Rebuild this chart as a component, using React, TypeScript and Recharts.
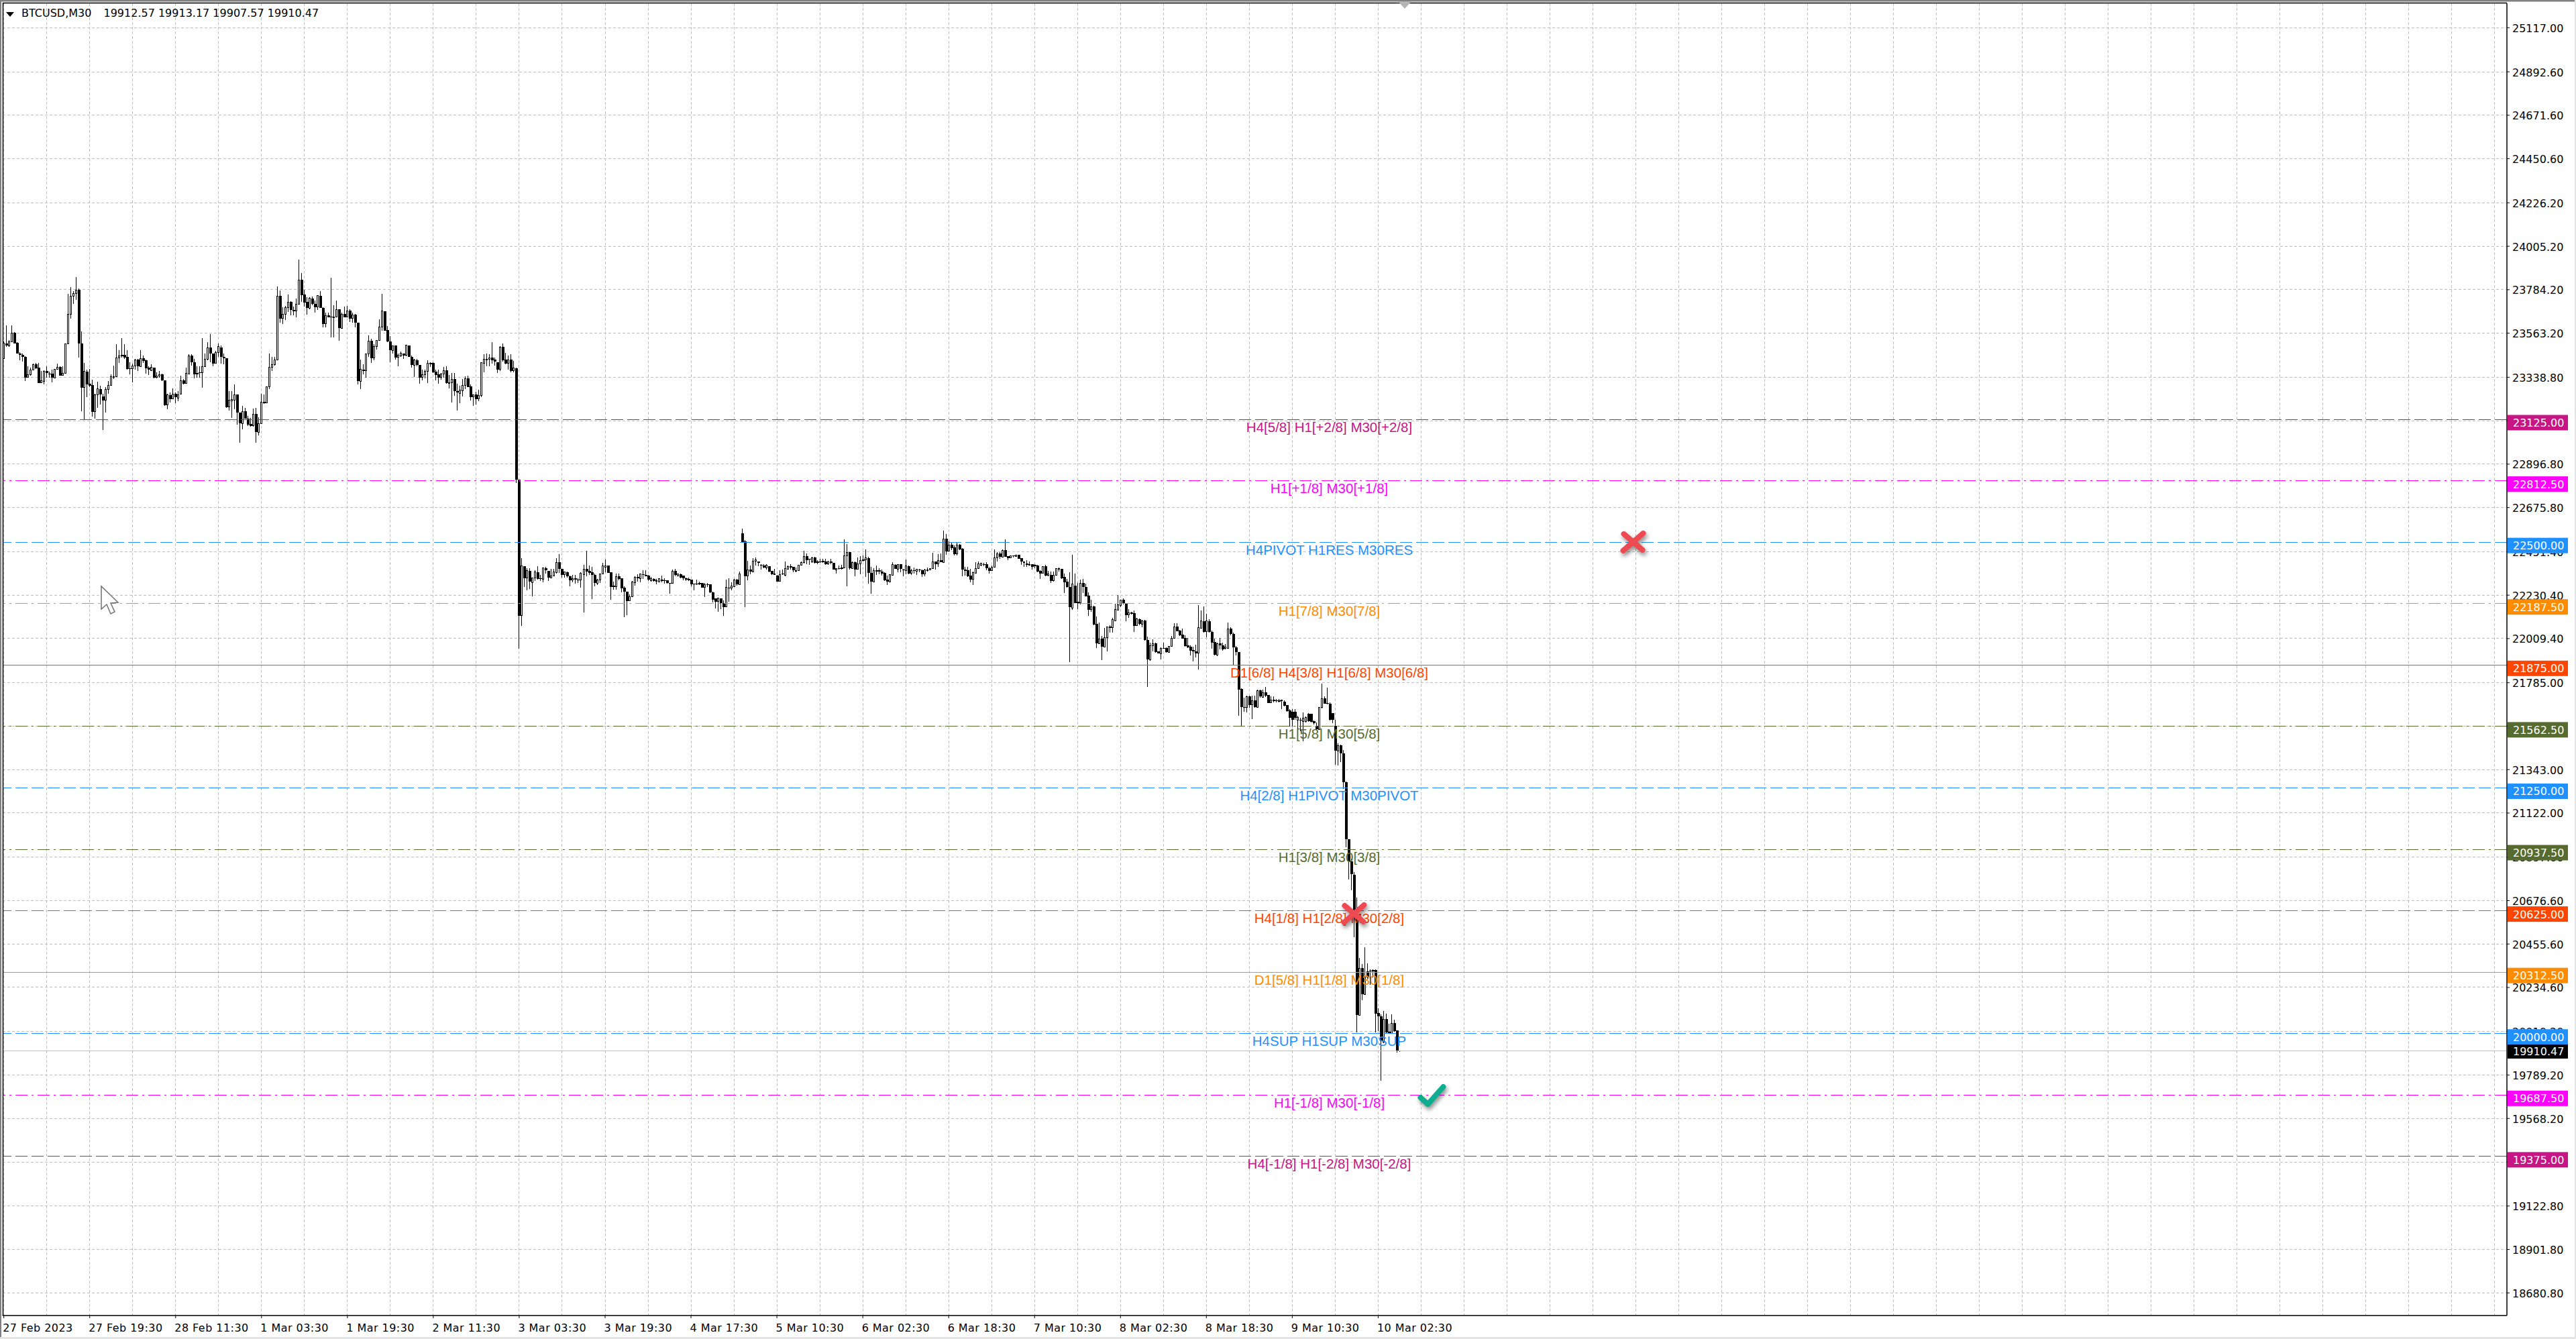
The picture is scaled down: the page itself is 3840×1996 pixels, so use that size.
import React from 'react';
import { Bar, CartesianGrid, ComposedChart, ReferenceDot, ReferenceLine, XAxis, YAxis } from 'recharts';

const symbolText = 'BTCUSD,M30';
const quoteText = '19912.57 19913.17 19907.57 19910.47';

const opens = [
  23435,23512,23499,23520,23565,23514,23461,23452,23442,23338,
  23353,23377,23404,23387,23311,23318,23370,23357,23357,23336,
  23380,23392,23350,23359,23510,23660,23752,23766,23783,23510,
  23287,23369,23305,23298,23163,23251,23279,23241,23222,23278,
  23298,23342,23343,23438,23452,23452,23443,23385,23382,23397,
  23428,23393,23434,23426,23387,23372,23387,23338,23346,23353,
  23323,23197,23248,23230,23254,23233,23253,23322,23307,23355,
  23448,23414,23360,23363,23362,23393,23431,23489,23461,23410,
  23464,23489,23442,23435,23188,23220,23222,23251,23158,23104,
  23165,23129,23102,23091,23152,23059,23104,23213,23208,23290,
  23390,23404,23428,23752,23638,23659,23693,23721,23683,23675,
  23709,23836,23759,23723,23689,23740,23711,23698,23754,23693,
  23611,23654,23647,23646,23646,23684,23588,23660,23645,23678,
  23638,23657,23617,23318,23378,23372,23459,23524,23437,23495,
  23526,23594,23674,23578,23521,23475,23500,23441,23447,23459,
  23450,23500,23442,23400,23425,23401,23338,23352,23369,23411,
  23411,23367,23353,23338,23355,23373,23311,23311,23329,23268,
  23256,23271,23297,23332,23293,23238,23251,23229,23245,23410,
  23430,23430,23438,23429,23414,23379,23493,23429,23410,23428,
  23372,23384,22818,22126,22378,22317,22354,22293,22317,22347,
  22316,22312,22367,22354,22317,22328,22345,22397,22363,22334,
  22347,22325,22307,22315,22310,22307,22334,22363,22353,22346,
  22335,22292,22307,22338,22372,22381,22346,22279,22275,22325,
  22315,22268,22247,22201,22222,22295,22323,22316,22336,22334,
  22329,22303,22312,22303,22299,22309,22307,22307,22291,22290,
  22353,22328,22337,22329,22317,22312,22308,22288,22288,22293,
  22291,22270,22287,22285,22244,22213,22197,22214,22190,22171,
  22270,22266,22275,22309,22284,22545,22503,22328,22359,22349,
  22403,22400,22384,22382,22370,22376,22354,22336,22330,22300,
  22339,22332,22364,22378,22373,22356,22355,22382,22396,22428,
  22414,22399,22422,22403,22403,22404,22400,22389,22401,22394,
  22359,22367,22370,22368,22430,22448,22366,22397,22364,22389,
  22411,22411,22419,22345,22299,22357,22357,22350,22342,22309,
  22299,22333,22384,22364,22388,22359,22355,22378,22341,22357,
  22351,22362,22357,22337,22357,22358,22365,22400,22388,22407,
  22396,22516,22454,22486,22473,22440,22487,22466,22361,22357,
  22329,22312,22343,22365,22384,22389,22387,22368,22355,22372,
  22420,22442,22425,22459,22428,22420,22431,22427,22436,22417,
  22400,22393,22386,22387,22384,22381,22355,22341,22379,22330,
  22335,22303,22331,22364,22364,22322,22299,22272,22166,22278,
  22196,22193,22292,22272,22227,22157,22172,22083,21985,22009,
  21968,22014,22072,22065,22100,22155,22179,22207,22188,22130,
  22142,22138,22075,22109,22084,22101,22002,21900,21973,21986,
  21943,21932,21961,21961,21940,21969,22010,22069,22050,22029,
  22012,21974,21968,21950,21944,21935,22061,22098,22044,22098,
  22042,21992,21925,21984,21976,21958,21961,22061,22033,21965,
  21940,21753,21661,21660,21714,21672,21694,21660,21746,21711,
  21735,21722,21683,21697,21695,21694,21694,21689,21671,21643,
  21637,21637,21595,21597,21589,21589,21627,21627,21590,21566,
  21548,21658,21705,21683,21679,21629,21566,21436,21466,21424,
  21280,20989,20876,20808,20588,20094,20332,20199,20315,20321,
  20324,20324,20104,20088,19955,20074,20008,20002,20054,20016,
  19912.57,
];

const highs = [
  23520,23603,23527,23603,23569,23517,23466,23459,23446,23394,
  23387,23410,23413,23413,23372,23375,23395,23367,23376,23381,
  23410,23395,23395,23510,23762,23797,23777,23849,23790,23572,
  23412,23376,23381,23327,23256,23315,23296,23256,23290,23319,
  23353,23398,23506,23478,23538,23506,23478,23415,23410,23433,
  23433,23476,23450,23429,23395,23406,23387,23364,23370,23356,
  23323,23254,23262,23281,23261,23268,23347,23330,23387,23455,
  23455,23433,23393,23393,23538,23461,23518,23560,23461,23472,
  23512,23501,23461,23435,23270,23268,23302,23251,23158,23193,
  23182,23142,23131,23179,23182,23137,23256,23251,23291,23459,
  23443,23443,23800,23780,23694,23702,23759,23725,23698,23740,
  23936,23869,23785,23745,23745,23748,23728,23757,23777,23695,
  23666,23666,23844,23706,23728,23684,23666,23700,23702,23686,
  23668,23660,23617,23429,23404,23461,23552,23535,23506,23527,
  23634,23762,23674,23600,23549,23501,23501,23459,23470,23461,
  23504,23501,23450,23433,23433,23401,23379,23379,23427,23415,
  23415,23376,23376,23361,23390,23393,23350,23361,23361,23306,
  23296,23330,23344,23347,23302,23251,23265,23276,23414,23456,
  23459,23455,23518,23438,23415,23497,23510,23463,23450,23455,
  23421,23387,22818,22420,22378,22369,22369,22318,22357,22378,
  22332,22371,22374,22354,22363,22363,22417,22439,22363,22351,
  22351,22329,22332,22332,22315,22348,22384,22455,22380,22374,
  22340,22312,22340,22394,22412,22382,22346,22298,22340,22340,
  22317,22275,22249,22234,22303,22325,22337,22339,22357,22357,
  22332,22323,22317,22312,22314,22329,22317,22307,22291,22361,
  22363,22340,22340,22330,22318,22318,22308,22289,22308,22298,
  22291,22291,22291,22287,22247,22215,22217,22214,22204,22309,
  22317,22296,22312,22312,22350,22568,22511,22405,22380,22420,
  22423,22400,22388,22388,22388,22378,22355,22363,22332,22357,
  22359,22403,22382,22388,22374,22371,22386,22403,22455,22441,
  22416,22425,22425,22408,22416,22416,22416,22405,22414,22396,
  22368,22382,22384,22514,22489,22448,22403,22400,22422,22428,
  22434,22463,22425,22374,22368,22380,22366,22359,22348,22329,
  22337,22397,22388,22388,22388,22363,22412,22382,22363,22371,
  22365,22365,22361,22363,22371,22368,22445,22403,22439,22442,
  22558,22541,22503,22496,22485,22496,22491,22469,22374,22374,
  22363,22351,22397,22400,22395,22396,22397,22374,22380,22462,
  22448,22448,22463,22514,22430,22433,22431,22436,22436,22420,
  22403,22407,22403,22388,22389,22384,22357,22379,22384,22355,
  22351,22351,22368,22371,22364,22340,22312,22346,22436,22340,
  22291,22309,22314,22289,22243,22206,22175,22121,22090,22022,
  22064,22070,22078,22116,22186,22230,22207,22214,22189,22161,
  22147,22152,22116,22111,22103,22103,22018,21987,22007,21989,
  21945,21965,21987,21964,21973,22022,22088,22088,22053,22059,
  22027,22014,21976,21968,21979,22181,22152,22173,22135,22107,
  22050,22010,21987,22014,21987,21982,22090,22067,22039,21973,
  21942,21757,21709,21720,21718,21720,21720,21749,21749,21749,
  21763,21722,21714,21714,21703,21703,21700,21695,21672,21650,
  21652,21652,21618,21606,21635,21612,21629,21627,21593,21584,
  21660,21780,21714,21760,21686,21629,21595,21476,21470,21444,
  21282,20989,20890,20822,20691,20384,20355,20440,20357,20327,
  20327,20327,20128,20099,20114,20101,20051,20097,20071,20016,
  19913.17,
];

const lows = [
  23435,23495,23492,23516,23509,23458,23427,23418,23321,23336,
  23347,23376,23381,23311,23311,23304,23336,23336,23313,23334,
  23379,23347,23347,23359,23510,23637,23711,23734,23438,23165,
  23123,23239,23290,23140,23129,23182,23199,23069,23160,23256,
  23296,23330,23342,23413,23438,23433,23376,23353,23313,23376,
  23370,23393,23413,23356,23350,23370,23334,23334,23336,23319,
  23194,23177,23211,23228,23208,23216,23251,23302,23307,23353,
  23398,23334,23336,23336,23284,23393,23427,23415,23393,23410,
  23444,23410,23404,23182,23171,23133,23177,23097,23004,23074,
  23129,23091,23086,23086,23004,23042,23102,23205,23207,23277,
  23372,23398,23427,23615,23611,23629,23671,23654,23654,23645,
  23709,23723,23700,23657,23686,23706,23666,23683,23691,23592,
  23591,23645,23543,23541,23643,23524,23586,23643,23643,23620,
  23615,23591,23304,23279,23355,23338,23444,23413,23427,23481,
  23526,23577,23577,23518,23415,23458,23429,23395,23441,23433,
  23447,23441,23387,23340,23395,23306,23324,23334,23310,23390,
  23361,23324,23306,23327,23336,23307,23281,23211,23245,23168,
  23208,23241,23279,23288,23222,23194,23199,23216,23238,23364,
  23395,23395,23410,23398,23361,23372,23419,23406,23376,23364,
  23364,22801,21959,22075,22272,22255,22263,22225,22303,22309,
  22303,22297,22340,22303,22317,22325,22341,22343,22320,22320,
  22320,22275,22297,22289,22291,22268,22143,22328,22332,22212,
  22275,22282,22291,22338,22346,22343,22207,22257,22257,22306,
  22246,22118,22130,22200,22221,22280,22298,22297,22312,22325,
  22304,22300,22298,22287,22297,22297,22289,22289,22238,22289,
  22325,22325,22316,22305,22303,22303,22277,22255,22283,22282,
  22267,22221,22273,22241,22192,22163,22147,22160,22126,22168,
  22196,22255,22272,22280,22282,22496,22169,22306,22337,22346,
  22380,22378,22361,22368,22359,22346,22332,22332,22298,22300,
  22332,22328,22362,22359,22348,22348,22354,22380,22391,22388,
  22384,22396,22391,22389,22394,22394,22384,22384,22389,22359,
  22341,22362,22362,22366,22275,22359,22363,22328,22362,22337,
  22400,22323,22289,22238,22296,22332,22337,22329,22303,22283,
  22298,22332,22363,22348,22346,22326,22337,22337,22332,22340,
  22332,22346,22323,22325,22351,22357,22363,22359,22374,22397,
  22394,22437,22452,22460,22434,22431,22460,22326,22329,22323,
  22295,22282,22341,22363,22378,22378,22357,22340,22353,22371,
  22400,22414,22425,22425,22408,22417,22423,22425,22415,22386,
  22374,22374,22384,22361,22368,22348,22314,22340,22328,22328,
  22291,22300,22329,22351,22312,22241,22270,21891,22157,22189,
  22159,22184,22241,22223,22125,22147,22078,21961,21984,21900,
  21968,21945,22041,22041,22100,22152,22169,22184,22098,22116,
  22132,22043,22073,22078,22067,22000,21763,21896,21945,21939,
  21934,21904,21959,21936,21939,21968,22009,22045,22024,22008,
  21968,21961,21925,21893,21913,21851,22061,22041,22016,22039,
  21959,21923,21919,21953,21948,21953,21959,22027,21877,21925,
  21615,21561,21638,21635,21658,21601,21658,21658,21709,21709,
  21711,21680,21680,21686,21686,21686,21652,21663,21638,21561,
  21561,21595,21549,21538,21487,21584,21587,21584,21572,21544,
  21544,21655,21677,21675,21593,21578,21367,21364,21381,21246,
  20947,20785,20731,20492,20005,20090,20170,20198,20275,20247,
  20287,20005,20014,19761,19951,20002,20000,20000,20008,19905,
  19907.57,
];

const closes = [
  23512,23499,23520,23565,23511,23461,23452,23441,23338,23352,
  23377,23404,23385,23311,23322,23369,23359,23355,23338,23380,
  23390,23348,23359,23510,23660,23752,23766,23783,23509,23287,
  23370,23304,23296,23163,23251,23279,23252,23222,23278,23299,
  23343,23343,23438,23448,23446,23438,23382,23382,23397,23428,
  23393,23434,23421,23386,23379,23390,23336,23346,23353,23322,
  23198,23251,23229,23254,23236,23251,23322,23307,23360,23448,
  23414,23355,23355,23359,23394,23431,23489,23459,23410,23464,
  23495,23441,23434,23188,23222,23226,23251,23160,23106,23164,
  23129,23097,23091,23152,23059,23104,23213,23207,23291,23390,
  23404,23427,23752,23638,23660,23694,23721,23683,23675,23711,
  23834,23757,23720,23691,23740,23711,23696,23754,23693,23611,
  23654,23645,23646,23647,23684,23588,23660,23645,23677,23637,
  23657,23617,23318,23380,23372,23459,23524,23437,23496,23527,
  23595,23677,23577,23522,23475,23500,23438,23452,23462,23450,
  23501,23441,23403,23428,23400,23338,23353,23370,23411,23406,
  23364,23352,23338,23356,23373,23310,23312,23329,23268,23260,
  23274,23298,23332,23290,23238,23251,23229,23247,23414,23431,
  23431,23438,23427,23417,23379,23493,23426,23410,23428,23371,
  23387,22818,22124,22378,22317,22354,22299,22318,22347,22314,
  22314,22369,22356,22321,22329,22347,22397,22363,22334,22347,
  22325,22307,22315,22310,22305,22343,22363,22351,22345,22332,
  22292,22309,22339,22378,22380,22345,22272,22272,22325,22314,
  22266,22249,22201,22223,22296,22322,22317,22337,22333,22328,
  22308,22313,22304,22305,22313,22304,22304,22291,22290,22353,
  22333,22337,22318,22315,22308,22305,22287,22284,22286,22285,
  22270,22284,22282,22244,22207,22197,22214,22190,22171,22270,
  22266,22277,22308,22284,22339,22500,22328,22359,22351,22404,
  22411,22394,22382,22372,22384,22351,22337,22337,22300,22334,
  22336,22366,22376,22371,22358,22357,22383,22396,22426,22409,
  22413,22421,22396,22394,22399,22398,22388,22400,22396,22362,
  22366,22365,22364,22431,22448,22366,22397,22359,22390,22408,
  22405,22419,22345,22300,22356,22351,22349,22341,22306,22300,
  22334,22387,22364,22387,22363,22357,22380,22340,22356,22353,
  22363,22356,22338,22358,22359,22366,22400,22389,22407,22399,
  22516,22453,22486,22471,22440,22486,22463,22361,22355,22328,
  22310,22346,22366,22388,22392,22387,22367,22355,22373,22420,
  22442,22425,22459,22427,22420,22431,22428,22434,22416,22400,
  22401,22386,22387,22374,22376,22351,22341,22376,22330,22339,
  22303,22332,22366,22365,22317,22296,22272,22169,22288,22189,
  22190,22292,22272,22225,22157,22172,22082,21986,22009,21968,
  22015,22069,22065,22105,22158,22180,22206,22186,22130,22141,
  22136,22075,22109,22083,22101,22001,21904,21975,21984,21941,
  21935,21961,21960,21941,21970,22011,22070,22048,22026,22010,
  21972,21966,21949,21944,21935,22064,22098,22043,22098,22042,
  21990,21927,21982,21976,21953,21965,22059,22033,21965,21940,
  21751,21660,21658,21714,21672,21694,21660,21745,21714,21735,
  21720,21683,21697,21692,21691,21689,21697,21669,21641,21606,
  21595,21606,21609,21595,21606,21609,21589,21586,21578,21549,
  21660,21705,21679,21677,21595,21595,21438,21466,21424,21280,
  20989,20876,20812,20588,20094,20332,20199,20287,20287,20318,
  20318,20101,20088,19963,20074,20006,20002,20051,20012,19914,
  19910.47,
];

const priceTicks = [
  25117, 24892.6, 24671.6, 24450.6, 24226.2, 24005.2, 23784.2, 23563.2, 23338.8, 23117.8,
  22896.8, 22675.8, 22451.4, 22230.4, 22009.4, 21785, 21564, 21343, 21122, 20897.6,
  20676.6, 20455.6, 20234.6, 20010.2, 19789.2, 19568.2, 19347.2, 19122.8, 18901.8, 18680.8,
];

const timeLabels = [
  '27 Feb 2023', '27 Feb 19:30', '28 Feb 11:30', '1 Mar 03:30', '1 Mar 19:30', '2 Mar 11:30',
  '3 Mar 03:30', '3 Mar 19:30', '4 Mar 17:30', '5 Mar 10:30', '6 Mar 02:30', '6 Mar 18:30',
  '7 Mar 10:30', '8 Mar 02:30', '8 Mar 18:30', '9 Mar 10:30', '10 Mar 02:30',
];

const levelPrices = [23125, 22812.5, 22500, 22187.5, 21875, 21562.5, 21250, 20937.5, 20625, 20312.5, 20000, 19687.5, 19375];
const levelTexts = [
  'H4[5/8] H1[+2/8] M30[+2/8]', 'H1[+1/8] M30[+1/8]', 'H4PIVOT H1RES M30RES', 'H1[7/8] M30[7/8]',
  'D1[6/8] H4[3/8] H1[6/8] M30[6/8]', 'H1[5/8] M30[5/8]', 'H4[2/8] H1PIVOT M30PIVOT', 'H1[3/8] M30[3/8]',
  'H4[1/8] H1[2/8] M30[2/8]', 'D1[5/8] H1[1/8] M30[1/8]', 'H4SUP H1SUP M30SUP', 'H1[-1/8] M30[-1/8]',
  'H4[-1/8] H1[-2/8] M30[-2/8]',
];
const lastPrice = 19910.47;

const crossBars = [607, 503];
const crossPrices = [22501, 20610];
const checkBars = [532];
const checkPrices = [19685];

// styles for the levels, same order as levelPrices
const PINK = '#c71585', MAGENTA = '#ff00ff', BLUE = '#1e90ff', ORANGE = '#ff8c00', RED = '#ff4500', OLIVE = '#556b2f';
const levelColors = [PINK, MAGENTA, BLUE, ORANGE, RED, OLIVE, BLUE, OLIVE, RED, ORANGE, BLUE, MAGENTA, PINK];
const DASH = '18 6', DASHDOT = '18 6 3 6';
const levelDashes = [DASH, DASHDOT, DASH, DASHDOT, undefined, DASHDOT, DASH, DASHDOT, DASH, undefined, DASH, DASHDOT, DASH];

const BAR_SLOTS = 933;
const LABEL_X = 1981.5;
const TAG_X = 3738;
const PRICE_DOMAIN = [18565.8, 25240.9];
const axisFont = '"DejaVu Sans", sans-serif';

const chartData = Array.from({ length: BAR_SLOTS }, (_, i) => ({
  idx: i,
  open: opens[i],
  high: highs[i],
  low: lows[i],
  close: closes[i],
}));
const gridTicks = Array.from({ length: 59 }, (_, k) => k * 16);

const Candle = (props: any) => {
  const { x, y, width, height, payload } = props;
  if (payload.high == null || !Number.isFinite(y)) return null;
  // snap to the pixel so wicks stay one sharp black line
  const cx = Math.round(x + width / 2 - 0.5) + 0.5;
  const perUnit = Math.abs(height) / (payload.high - payload.low);
  const top = y + (payload.high - Math.max(payload.open, payload.close)) * perUnit;
  const bodyH = Math.max(Math.abs(payload.close - payload.open) * perUnit, 1);
  const up = payload.close >= payload.open;
  return (
    <g shapeRendering="crispEdges">
      <line x1={cx} x2={cx} y1={y} y2={y + Math.abs(height)} stroke="#000" strokeWidth={1} />
      {up ? (
        <rect x={cx - 1} y={top} width={2} height={bodyH} fill="#fff" stroke="#000" strokeWidth={1} />
      ) : (
        <rect x={cx - 1.5} y={top} width={3.5} height={bodyH} fill="#000" />
      )}
    </g>
  );
};

const TimeTick = (props: any) => {
  const { x, payload } = props;
  const text = payload.value % 32 === 0 ? timeLabels[payload.value / 32] : undefined;
  if (!text) return null;
  return (
    <g>
      <line x1={x} x2={x} y1={1961} y2={1965} stroke="#000" />
      <text x={x - 1.5} y={1985} fontFamily={axisFont} fontSize={16} letterSpacing={0.45} fill="#000" textAnchor="start">{text}</text>
    </g>
  );
};

const PriceTick = (props: any) => {
  const { x, y, payload } = props;
  return (
    <text x={x} y={y + 6.5} fontFamily={axisFont} fontSize={16} fill="#000" textAnchor="start">{payload.value.toFixed(2)}</text>
  );
};

// price tags on the right sit on their own axis so they paint over the plain tick labels
const TagTick = (props: any) => {
  const { y, payload } = props;
  const isLast = payload.value === lastPrice;
  const color = isLast ? '#000' : levelColors[levelPrices.indexOf(payload.value)];
  const top = y - (isLast ? 10 : 6.5);
  return (
    <g>
      <rect x={TAG_X} y={top} width={90} height={isLast ? 21 : 23} fill={color} />
      <text x={TAG_X + 8} y={top + (isLast ? 16.5 : 17.5)} fontFamily={axisFont} fontSize={16} fill="#fff" textAnchor="start">{payload.value.toFixed(2)}</text>
    </g>
  );
};

const LevelLabel = (props: any) => {
  const { viewBox, text, color } = props;
  return (
    <text x={LABEL_X} y={viewBox.y + 18.5} fontFamily='"Liberation Sans", Arial, sans-serif' fontSize={20.5} fill={color} textAnchor="middle">{text}</text>
  );
};

const CrossMark = (props: any) => (
  <g style={{ filter: 'drop-shadow(2px 4px 3px rgba(0,0,0,0.45))' }}>
    <path
      d={`M${props.cx - 14} ${props.cy - 12} L${props.cx + 14} ${props.cy + 12} M${props.cx + 15} ${props.cy - 13} L${props.cx - 15} ${props.cy + 13}`}
      stroke="#ee4a52" strokeWidth={8} strokeLinecap="round" fill="none"
    />
  </g>
);

const CheckMark = (props: any) => (
  <g style={{ filter: 'drop-shadow(2px 4px 3px rgba(0,0,0,0.45))' }}>
    <path
      d={`M${props.cx - 17} ${props.cy + 3} L${props.cx - 6} ${props.cy + 13} L${props.cx + 17} ${props.cy - 13}`}
      stroke="#10ae90" strokeWidth={8} strokeLinecap="round" strokeLinejoin="round" fill="none"
    />
  </g>
);

export default function App() {
  return (
    <div style={{ position: 'absolute', left: 0, top: 0, width: 3840, height: 1996, background: '#fff', overflow: 'hidden' }}>
      <style>{'.recharts-reference-line line, .recharts-cartesian-grid line { shape-rendering: crispEdges; }'}</style>
      <ComposedChart
        width={3840}
        height={1996}
        data={chartData}
        margin={{ top: 5, right: 0, bottom: 0, left: 3.7 }}
        barGap={0}
        barCategoryGap={0}
      >
        <CartesianGrid stroke="#c0c0c0" strokeDasharray="4 3" horizontalValues={priceTicks} verticalValues={gridTicks} />
        <XAxis
          dataKey="idx"
          type="category"
          ticks={gridTicks}
          interval={0}
          height={35}
          tick={<TimeTick />}
          tickLine={false}
          axisLine={{ stroke: '#000', strokeWidth: 1.5 }}
        />
        <YAxis
          orientation="right"
          type="number"
          width={103}
          domain={PRICE_DOMAIN}
          ticks={priceTicks}
          interval={0}
          allowDataOverflow
          tick={<PriceTick />}
          tickSize={4}
          tickMargin={4}
          tickLine={{ stroke: '#000' }}
          axisLine={{ stroke: '#000', strokeWidth: 1.5 }}
        />
        <YAxis
          yAxisId="tags"
          orientation="right"
          type="number"
          mirror
          width={1}
          domain={PRICE_DOMAIN}
          ticks={[...levelPrices, lastPrice]}
          interval={0}
          allowDataOverflow
          tick={<TagTick />}
          tickLine={false}
          axisLine={false}
        />
        <Bar dataKey={(d: any) => (d.high == null ? null : [d.low, d.high])} shape={<Candle />} isAnimationActive={false} />
        <ReferenceLine y={lastPrice} stroke="#c0c0c0" strokeWidth={1} />
        {levelPrices.map((price, i) => (
          <ReferenceLine
            key={price}
            y={price}
            stroke={levelColors[i]}
            strokeWidth={1}
            strokeDasharray={levelDashes[i]}
            label={<LevelLabel text={levelTexts[i]} color={levelColors[i]} />}
          />
        ))}
        {crossBars.map((bar, i) => (
          <ReferenceDot key={bar} x={bar} y={crossPrices[i]} r={1} shape={<CrossMark />} />
        ))}
        {checkBars.map((bar, i) => (
          <ReferenceDot key={bar} x={bar} y={checkPrices[i]} r={1} shape={<CheckMark />} />
        ))}
      </ComposedChart>
      <svg width={3840} height={1996} style={{ position: 'absolute', left: 0, top: 0, pointerEvents: 'none' }}>
        <rect x={0} y={0} width={3840} height={2.5} fill="#808080" />
        <rect x={0} y={0} width={2} height={1996} fill="#808080" />
        <rect x={3838} y={0} width={2} height={1996} fill="#e4e4e4" />
        <rect x={0} y={1993} width={3840} height={3} fill="#e4e4e4" />
        <path d="M4.5 1961 L4.5 4.5 L3737 4.5" fill="none" stroke="#000" strokeWidth={1.5} />
        <path d="M2084 2 L2104 2 L2094 13 Z" fill="#b4b4b4" />
        <path d="M9 18 L21 18 L15 25 Z" fill="#000" />
        <text x={32} y={25} fontFamily={axisFont} fontSize={16} fill="#000">{symbolText}</text>
        <text x={154.5} y={25} fontFamily={axisFont} fontSize={16} fill="#000">{quoteText}</text>
        <path d="M151 874 L151 908 L159 901 L165 915 L171 912 L165 899 L176 898 Z" fill="#fff" stroke="#777" strokeWidth={1.6} />
      </svg>
    </div>
  );
}
